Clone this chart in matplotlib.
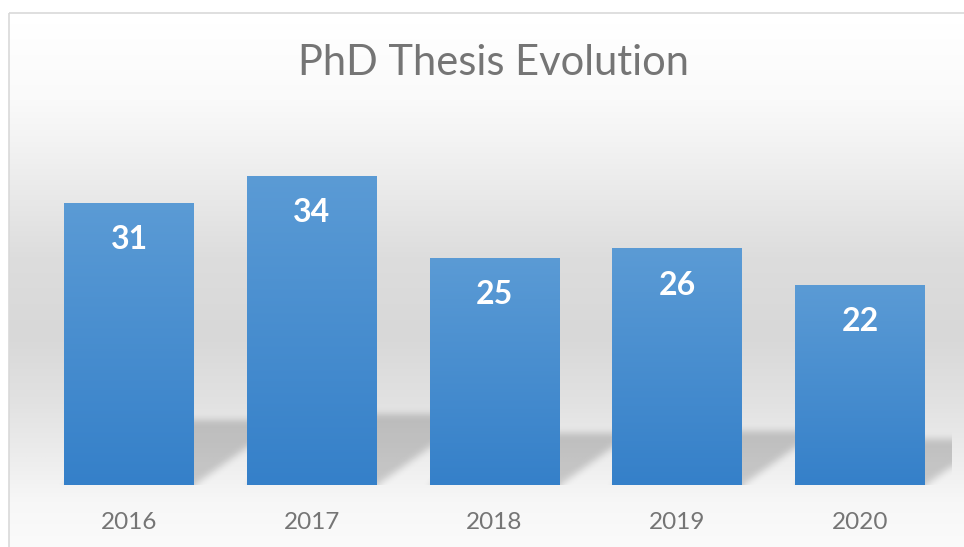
import numpy as np
import matplotlib
matplotlib.use("Agg")
import matplotlib.pyplot as plt
from matplotlib.colors import LinearSegmentedColormap
from matplotlib.patches import Rectangle

# ---- data ----
years = ["2016", "2017", "2018", "2019", "2020"]
theses = [31, 34, 25, 26, 22]
title = "PhD Thesis Evolution"

# ---- style ----
W_PX, H_PX = 964, 547
TEXT_GRAY = "#757575"
BAR_TOP = "#5b9bd5"
BAR_BOTTOM = "#3580c9"
FONT = ["Lato", "DejaVu Sans"]
YMAX = 40
BAR_W = 0.71
SHADOW_RATIO = 0.23
SHADOW_SHEAR_PX = 1.4   # horizontal px per vertical px

fig = plt.figure(figsize=(W_PX / 100, H_PX / 100), dpi=100)
fig.patch.set_facecolor("white")

# background panel with vertical gradient
bg = fig.add_axes([0, 0, 1, 1], zorder=-2)
bg.set_xlim(0, W_PX)
bg.set_ylim(H_PX, 0)
bg.axis("off")
stops_y = np.array([12, 90, 150, 250, 330, 400, 460, 500, 547])
stops_g = np.array([255, 250, 240, 221, 216, 226, 238, 247, 251]) / 255.0
ys = np.arange(H_PX)
gvals = np.interp(ys, stops_y, stops_g)
grad = np.repeat(gvals[:, None], 4, axis=1)
img = np.dstack([grad, grad, grad])
panel = Rectangle((8.5, 12.5), W_PX, H_PX, facecolor="none", edgecolor="#d9d9d9", lw=1.2)
bg.add_patch(panel)
im = bg.imshow(img, extent=(8.5, W_PX, H_PX, 12.5), aspect="auto", interpolation="bilinear", zorder=0)
im.set_clip_path(panel)

# main axes
left_px, right_px = 37.6, 951.4
bottom_px, top_px = 485, 121
ax = fig.add_axes([left_px / W_PX, 1 - bottom_px / H_PX,
                   (right_px - left_px) / W_PX, (bottom_px - top_px) / H_PX])
ax.set_facecolor("none")
n = len(years)
x = np.arange(n)
ax.set_xlim(-0.5, n - 0.5)
ax.set_ylim(0, YMAX)
for s in ax.spines.values():
    s.set_visible(False)
ax.set_yticks([])
ax.set_xticks(x)
ax.set_xticklabels(years, fontsize=17.5, color=TEXT_GRAY, family=FONT)
ax.tick_params(axis="x", length=0, pad=19.5)

# shadows (computed from data, rendered as blurred raster)
Wp = int(right_px - left_px)
Hp = int(bottom_px - top_px)
xd = -0.5 + (np.arange(Wp) + 0.5) / Wp * n
yd = (np.arange(Hp) + 0.5) / Hp * YMAX
XX, YY = np.meshgrid(xd, yd)
px_per_x = Wp / n
px_per_y = Hp / YMAX
shear = SHADOW_SHEAR_PX * px_per_y / px_per_x
mask = np.zeros_like(XX)
for xi, v in zip(x, theses):
    hs = SHADOW_RATIO * v
    xl, xr = xi - BAR_W / 2, xi + BAR_W / 2
    inside = (YY >= 0) & (YY <= hs) & (XX >= xl + shear * YY) & (XX <= xr + shear * YY)
    mask[inside] = 1.0
# gaussian blur
sig = 3.5
kx = np.arange(-12, 13)
k = np.exp(-kx ** 2 / (2 * sig ** 2))
k /= k.sum()
pad = 20
mpad = np.pad(mask, pad, mode="edge")
mpad = np.apply_along_axis(lambda r: np.convolve(r, k, mode="same"), 1, mpad)
mpad = np.apply_along_axis(lambda c: np.convolve(c, k, mode="same"), 0, mpad)
mask_b = mpad[pad:-pad, pad:-pad]
shadow = np.zeros((Hp, Wp, 4))
shadow[..., 3] = mask_b * 0.18
ax.imshow(shadow, extent=(-0.5, n - 0.5, 0, YMAX), origin="lower", aspect="auto",
          interpolation="bilinear", zorder=1)

# bars with vertical gradient
bars = ax.bar(x, theses, width=BAR_W, color=BAR_BOTTOM, zorder=2, linewidth=0)
cmap = LinearSegmentedColormap.from_list("bargrad", [BAR_BOTTOM, BAR_TOP])
gcol = np.linspace(0, 1, 256)[:, None]
for b in bars:
    bx, by = b.get_x(), b.get_y()
    bw, bh = b.get_width(), b.get_height()
    gi = ax.imshow(gcol, cmap=cmap, extent=(bx, bx + bw, by, by + bh), origin="lower",
                   aspect="auto", zorder=3, interpolation="bilinear")
    gi.set_clip_path(b)

# data labels
for xi, v in zip(x, theses):
    ax.annotate(str(v), (xi, v), xytext=(0, -26.5), textcoords="offset points",
                ha="center", va="center", color="white", fontsize=23,
                fontweight="bold", family=FONT, zorder=4)

# title
fig.text(494 / W_PX, 1 - 63 / H_PX, title, ha="center", va="center",
         fontsize=30, color=TEXT_GRAY, family=FONT)

fig.savefig("out.png", dpi=100, facecolor="white")
